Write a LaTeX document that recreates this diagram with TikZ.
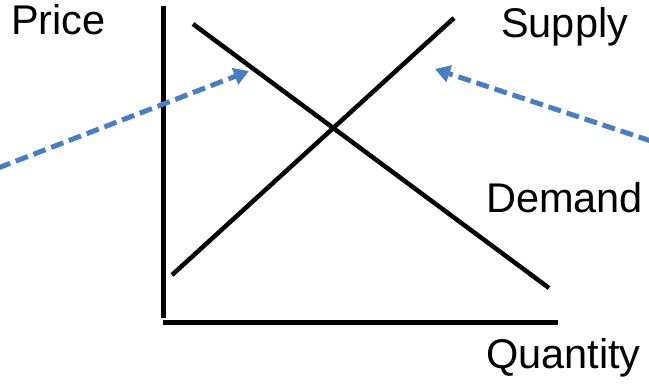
\documentclass[tikz,border=0pt]{standalone}
\usepackage{fontspec}
\setmainfont{Liberation Sans}
\usetikzlibrary{arrows.meta}
\definecolor{arrowblue}{RGB}{74,126,193}
\tikzset{
  axisline/.style={line width=5pt, black},
  curveline/.style={line width=4.5pt, black},
  pointer/.style={arrowblue, line width=5pt, dash pattern=on 13pt off 6pt, -{Triangle[length=15pt,width=17pt]}},
  lbl/.style={anchor=base west, inner sep=0pt, font=\fontsize{41.5}{48}\selectfont}
}
\begin{document}
\begin{tikzpicture}[x=1pt,y=-1pt]
\useasboundingbox (0,0) rectangle (649,385);
% axes
\coordinate (ytop) at (163,6);
\coordinate (ybot) at (163,318);
\coordinate (xl) at (163,323);
\coordinate (xr) at (558,323);
\draw[axisline] (ytop) -- (ybot);
\draw[axisline] (xl) -- (xr);
% supply and demand
\coordinate (s1) at (172,275);
\coordinate (s2) at (454,18);
\coordinate (d1) at (193,24);
\coordinate (d2) at (549,288);
\draw[curveline] (s1) -- (s2);
\draw[curveline] (d1) -- (d2);
% labels
\node[lbl] (price) at (11,35) {Price};
\node[lbl] (supply) at (501,38) {Supply};
\node[lbl] (demand) at (486,213) {Demand};
\node[lbl] (quantity) at (486,368) {Quantity};
% arrows
\coordinate (la) at (-2,168);
\coordinate (lt) at (249,71);
\coordinate (ra) at (651,141);
\coordinate (rt) at (435,69);
\draw[pointer] (la) -- (lt);
\draw[pointer] (ra) -- (rt);
\end{tikzpicture}
\end{document}
